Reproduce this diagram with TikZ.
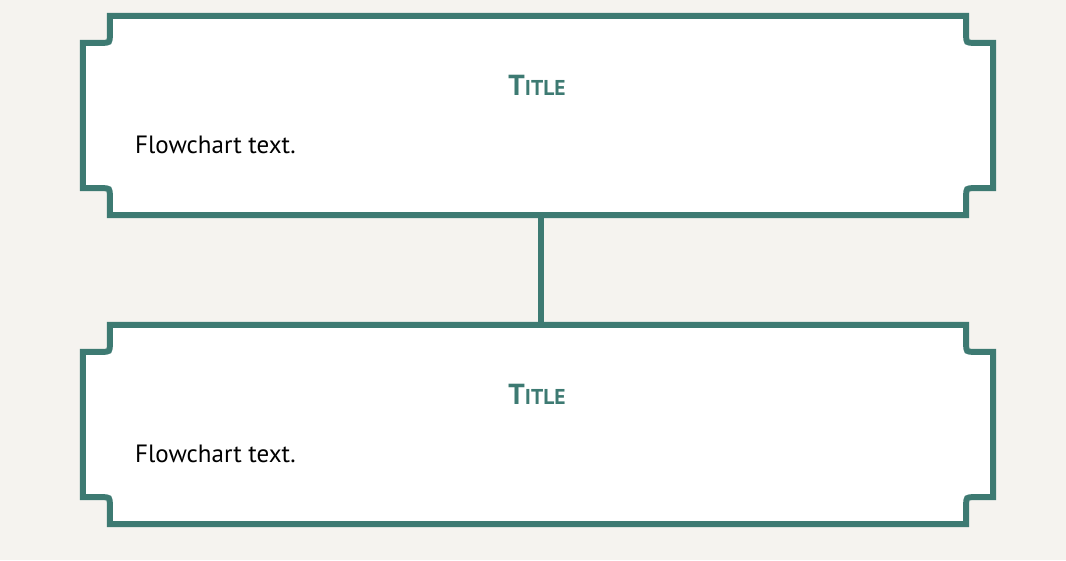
\documentclass[tikz,border=0pt]{standalone}
\usepackage{fontspec}
\setmainfont{PT Sans}
\usepackage{tikz}
\usetikzlibrary{positioning, calc}
\definecolor{frameteal}{RGB}{61, 122, 114}
\definecolor{paper}{RGB}{245, 243, 239}
\tikzstyle{panel} = [rectangle, minimum width=910pt, minimum height=199pt, inner sep=0pt]
\tikzstyle{frame} = [draw=frameteal, fill=white, line width=6pt, line join=miter]
\tikzstyle{link} = [draw=frameteal, line width=6pt]
\tikzstyle{heading} = [text=frameteal, font=\bfseries, inner sep=0pt, anchor=base]
\tikzstyle{body} = [text=black, font=\fontsize{25}{30}\selectfont, inner sep=0pt, anchor=base west]
% frame with stepped corners round a panel node
\newcommand{\notchframe}[1]{%
    \draw[frame] ($(#1.north west)+(27,0)$) -- ($(#1.north east)+(-27,0)$)
        -- ($(#1.north east)+(-27,19)$) .. controls ($(#1.north east)+(-27,27)$) .. ($(#1.north east)+(-19,27)$)
        -- ($(#1.north east)+(0,27)$) -- ($(#1.south east)+(0,-27)$)
        -- ($(#1.south east)+(-19,-27)$) .. controls ($(#1.south east)+(-27,-27)$) .. ($(#1.south east)+(-27,-19)$)
        -- ($(#1.south east)+(-27,0)$) -- ($(#1.south west)+(27,0)$)
        -- ($(#1.south west)+(27,-19)$) .. controls ($(#1.south west)+(27,-27)$) .. ($(#1.south west)+(19,-27)$)
        -- ($(#1.south west)+(0,-27)$) -- ($(#1.north west)+(0,27)$)
        -- ($(#1.north west)+(19,27)$) .. controls ($(#1.north west)+(27,27)$) .. ($(#1.north west)+(27,19)$)
        -- cycle;}
\newcommand{\smcptitle}{{\fontsize{29}{34}\selectfont T}{\fontsize{21.5}{26}\selectfont ITLE}}

\begin{document}
\begin{tikzpicture}[x=1pt, y=-1pt]
    \fill[paper] (0,0) rectangle (1066,560);
    \useasboundingbox (0,0) rectangle (1066,560);

    % Panels
    \node[panel] (top) at (538, 115.5) {};
    \node[panel] (bot) at (538, 424.5) {};

    % Connector
    \draw[link] ([xshift=3pt]top.south) -- ([xshift=3pt]bot.north);

    % Frames
    \notchframe{top}
    \notchframe{bot}

    % Texts
    \node[heading] (toptitle) at (537, 95) {\smcptitle};
    \node[body] (toptext) at (135, 153) {Flowchart text.};
    \node[heading] (bottitle) at (537, 404) {\smcptitle};
    \node[body] (bottext) at (135, 462) {Flowchart text.};
\end{tikzpicture}
\end{document}
